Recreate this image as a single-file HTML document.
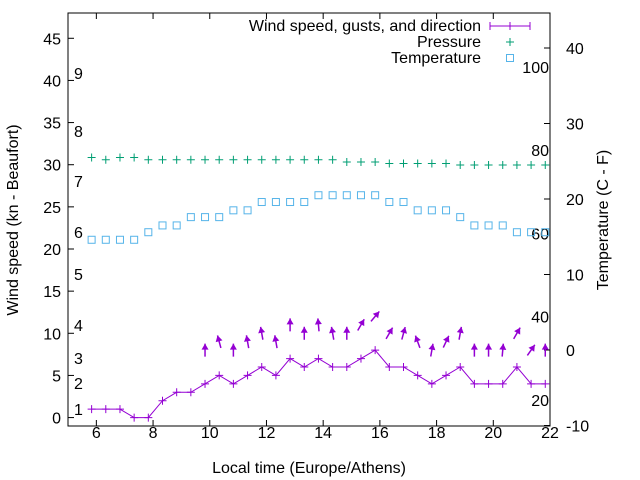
<!DOCTYPE html>
<html><head><meta charset="utf-8"><style>
body{margin:0;background:#fff}
svg{display:block;font-family:"Liberation Sans",sans-serif}
</style></head><body>
<svg id="c" width="640" height="480" viewBox="0 0 640 480">
<rect x="0" y="0" width="640" height="480" fill="#fff"/>
<g id="axes"></g>
<g id="marks"></g>
<g id="legend"></g>
</svg>
<script>
const xTicks=[6,8,10,12,14,16,18,20,22];
const yLeftTicks=[0,5,10,15,20,25,30,35,40,45];
const yRightTicks=[-10,0,10,20,30,40];
const beaufortLabels=["1","2","3","4","5","6","7","8","9"];
const beaufortY=[409,383,358,325,274,232,181,131,73];
const kmhLabels=["20","40","60","80","100"];
const kmhValues=[20,40,60,80,100];
const t0=5.833, dt=0.5;
const wind=[1,1,1,0,0,2,3,3,4,5,4,5,6,5,7,6,7,6,6,7,8,6,6,5,4,5,6,4,4,4,6,4,4];
const gustStart=8;
const gusts=[8,9,8,9,10,9,11,10,11,10,10,11,12,10,10,9,8,9,10,8,8,8,10,8,8];
const gustDir=[0,-15,0,-10,-10,-10,0,0,-5,-10,0,30,40,30,15,-20,10,25,10,0,0,5,30,35,0];
const pressure=[1015.5,1015.2,1015.5,1015.5,1015.2,1015.2,1015.2,1015.2,1015.2,1015.2,1015.2,1015.2,1015.2,1015.2,1015.2,1015.2,1015.2,1015.2,1014.9,1014.9,1014.9,1014.7,1014.7,1014.7,1014.7,1014.7,1014.5,1014.5,1014.5,1014.5,1014.5,1014.5,1014.5];
const temperature=[14.6,14.6,14.6,14.6,15.6,16.5,16.5,17.6,17.6,17.6,18.5,18.5,19.6,19.6,19.6,19.6,20.5,20.5,20.5,20.5,20.5,19.6,19.6,18.5,18.5,18.5,17.6,16.5,16.5,16.5,15.6,15.6,15.6];

const L=68,R=550,T=13,B=426;
const X=v=>L+(v-5)/(22-5)*(R-L);
const YL=v=>B-(v+1)/(48+1)*(B-T);
const YR=v=>350-v*7.55;
const YP=p=>YR(p-990);
const YK=v=>483-4.16*v;
const NS="http://www.w3.org/2000/svg";
function mk(tag,attrs,parent,txt){const e=document.createElementNS(NS,tag);for(const k in attrs)e.setAttribute(k,attrs[k]);if(txt!==undefined)e.textContent=txt;parent.appendChild(e);return e;}
const ax=document.getElementById('axes'),mg=document.getElementById('marks'),lg=document.getElementById('legend');
const FS=16;

let e=mk('rect',{x:L,y:T,width:R-L,height:B-T,fill:'none',stroke:'#000','stroke-width':1},ax);


xTicks.forEach(v=>{
 const x=X(v);
 let t=mk('path',{d:`M${x},${B}v-6M${x},${T}v6`,stroke:'#000'},ax);
 
 
 let l=mk('text',{x:x,y:438,'text-anchor':'middle','font-size':FS},ax,String(v));
 
 
});
yLeftTicks.forEach(v=>{
 const y=YL(v);
 let t=mk('path',{d:`M${L},${y}h6`,stroke:'#000'},ax);
 
 
 let l=mk('text',{x:L-7,y:y+6,'text-anchor':'end','font-size':FS},ax,String(v));
 
 
});
yRightTicks.forEach(v=>{
 const y=YR(v);
 let t=mk('path',{d:`M${R},${y}h-6`,stroke:'#000'},ax);
 
 
 let l=mk('text',{x:R+16,y:y+6,'text-anchor':'start','font-size':FS},ax,String(v));
 
 
});
beaufortLabels.forEach((b,i)=>{
 let l=mk('text',{x:74,y:beaufortY[i]+6,'font-size':FS},ax,b);
 
 
});
kmhValues.forEach((v,i)=>{
 let l=mk('text',{x:549,y:YK(v)+6,'text-anchor':'end','font-size':FS},ax,kmhLabels[i]);
 
 
});
let xt=mk('text',{x:309,y:473,'text-anchor':'middle','font-size':FS},ax,'Local time (Europe/Athens)');


let yt=mk('text',{x:0,y:0,'text-anchor':'middle','font-size':FS,transform:`translate(18,220) rotate(-90)`},ax,'Wind speed (kn - Beaufort)');


let yt2=mk('text',{x:0,y:0,'text-anchor':'middle','font-size':FS,transform:`translate(608,220) rotate(-90)`},ax,'Temperature (C - F)');



const pur='#9400d3',grn='#009e73',blu='#56b4e9';
let pts=wind.map((v,i)=>`${X(t0+i*dt)},${YL(v)}`).join(' ');
let wl=mk('polyline',{points:pts,fill:'none',stroke:pur,'stroke-width':1},mg);


wind.forEach((v,i)=>{
 const x=X(t0+i*dt),y=YL(v);
 let p=mk('path',{d:`M${x-4},${y}h8M${x},${y-4}v8`,stroke:pur},mg);
 
 
});
gusts.forEach((g,j)=>{
 const i=j+gustStart;
 const cx=X(t0+i*dt),cy=YL(g);
 const a=gustDir[j]*Math.PI/180,len=13;
 const dx=Math.sin(a)*len/2,dy=-Math.cos(a)*len/2;
 const hx=cx+dx,hy=cy+dy,tx=cx-dx,ty=cy-dy;
 const ux=Math.sin(a),uy=-Math.cos(a);
 const px=-uy,py=ux;
 const bx=hx-ux*6,by=hy-uy*6;
 const g1=mk('g',{},mg);
 
 
 mk('line',{x1:tx,y1:ty,x2:hx,y2:hy,stroke:pur,'stroke-width':1.5},g1);
 mk('polygon',{points:`${hx},${hy} ${bx+px*3.5},${by+py*3.5} ${bx-px*3.5},${by-py*3.5}`,fill:pur},g1);
});
pressure.forEach((v,i)=>{
 const x=X(t0+i*dt),y=YP(v);
 let p=mk('path',{d:`M${x-4},${y}h8M${x},${y-4}v8`,stroke:grn},mg);
 
 
});
temperature.forEach((v,i)=>{
 const x=X(t0+i*dt),y=YR(v);
 let p=mk('rect',{x:x-3.5,y:y-3.5,width:7,height:7,fill:'none',stroke:blu},mg);
 
 
});
const lx=481;
let l1=mk('text',{x:lx,y:31,'text-anchor':'end','font-size':FS},lg,'Wind speed, gusts, and direction');


let s1=mk('path',{d:'M490,26h40M490,22v8M530,22v8M510,22v8',stroke:pur},lg);


let l2=mk('text',{x:lx,y:47,'text-anchor':'end','font-size':FS},lg,'Pressure');


let s2=mk('path',{d:'M506,42h8M510,38v8',stroke:grn},lg);


let l3=mk('text',{x:lx,y:63,'text-anchor':'end','font-size':FS},lg,'Temperature');


let s3=mk('rect',{x:506.5,y:54.5,width:7,height:7,fill:'none',stroke:blu},lg);


</script>
</body></html>
